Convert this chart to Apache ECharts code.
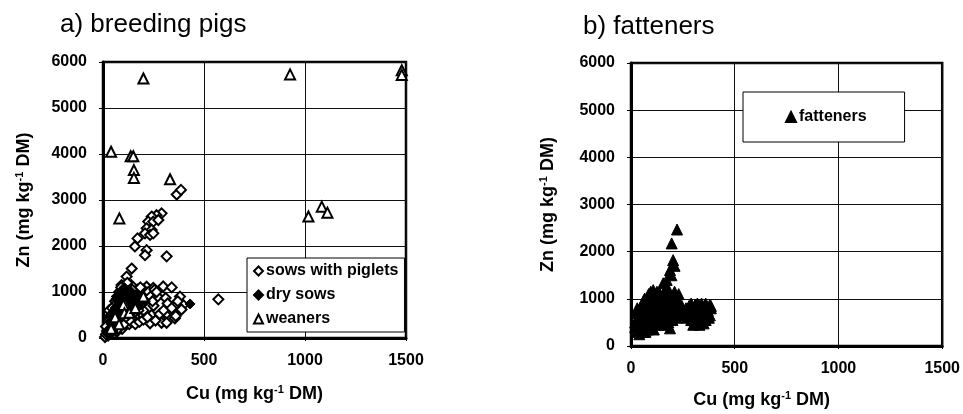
<!DOCTYPE html>
<html>
<head>
<meta charset="utf-8">
<script src="https://cdn.jsdelivr.net/npm/echarts@6/dist/echarts.min.js"></script>
<style>html,body{margin:0;padding:0;background:#fff;}#c{width:963px;height:414px;}</style>
</head>
<body>
<div id="c"></div>
<script>
// ---- data (Cu, Zn) in mg kg-1 DM ----
var xTicks = [0, 500, 1000, 1500];
var yTicks = [0, 1000, 2000, 3000, 4000, 5000, 6000];

var sowsWithPiglets = [
  [365,3120],[386,3220],[290,2710],[265,2670],[241,2640],[224,2530],[249,2530],[274,2565],
  [216,2385],[241,2350],[208,2275],[233,2240],[249,2275],[171,2165],[158,1990],[216,1910],
  [208,1800],[315,1775],[142,1510],[117,1335],[92,1150],[571,840],
  [216,1115],[249,1090],[298,1120],[340,1100],[270,900],[381,900],[397,720],[315,535],
  [348,560],[389,620],[282,430],[356,430],[233,320],[290,330],[315,330],[360,480],
  [250,700],[200,600],[180,800],[150,1000],[130,1100],[310,870],[240,500],[170,400],
  [20,150],[30,300],[40,250],[50,400],[60,500],[70,350],[80,600],[90,700],[100,800],
  [110,900],[120,1000],[60,800],[70,900],[80,1000],[100,1050],[130,800],[140,700],
  [150,600],[120,500],[100,400],[80,250],[50,200],[40,500],[30,600],[110,650],[160,900],
  [170,1050],[190,950],[140,1150],[120,1200],[90,1100],[150,400],[130,300],[60,100],
  [25,50],[10,20],[200,1050],
  [15,80],[35,150],[45,350],[55,250],[65,600],[75,450],[85,850],[95,550],[105,950],
  [115,750],[125,850],[135,950],[145,1050],[155,800],[165,700],[175,600],[185,1100],
  [195,750],[205,950],[215,850],[225,1000],[235,900],[245,800],[255,1050],[265,1000],
  [55,700],[45,650],[35,450],[25,350],[15,250],[85,350],[95,200],[105,300],[115,450],
  [65,150],[75,200],[140,350],[160,300],[180,350],[200,400],[220,450],[260,380],
  [280,520],[300,600],[320,750],[340,650],[370,800]
];
var drySows = [
  [431,740],[60,400],[80,500],[100,600],[120,700],[140,800],[90,900],[110,1000],[70,700],
  [50,300],[30,200],[150,950],[130,600],[180,700],[160,850],[40,450],[100,850],[120,950],
  [200,850],[60,650],[20,100],[80,800],
  [25,150],[35,350],[45,550],[55,450],[65,550],[75,650],[85,750],[95,650],[105,700],
  [115,850],[125,800],[135,900],[145,750],[155,700],[165,950],[175,800],[110,550],
  [90,450],[70,400],[50,150],[40,300],[130,1050],[105,1100],[85,1000],[65,850],[190,900],
  [210,800]
];
var weaners = [
  [200,5640],[926,5730],[1479,5820],[1479,5720],[40,4050],[137,3950],[150,3950],[153,3650],
  [153,3480],[332,3450],[81,2600],[1017,2640],[1083,2855],[1111,2725],[109,740],[200,900],
  [101,720],[106,540],[60,450],[130,550],[80,300],[40,200],[160,650]
];
var fatteners = [
  [222,2470],[196,2175],[203,1820],[188,1610],[172,1400],[155,1330],[107,1185],[75,1010],
  [210,1700],[195,1500],[180,1200],[160,1150],[140,1100],[120,1050],[90,1000],[60,950],
  [30,300],[40,400],[50,500],[35,600],[60,700],[70,800],[80,900],[90,600],[100,700],
  [110,800],[120,900],[130,1000],[140,800],[150,700],[160,600],[170,900],[180,1000],
  [190,800],[200,700],[210,900],[220,1000],[230,800],[240,700],[250,650],[100,500],
  [80,450],[60,550],[120,600],[140,500],[160,450],[180,500],[200,550],[220,600],[188,375],
  [110,350],[70,300],[50,350],[150,850],[90,750],[230,1100],[210,1150],[45,750],[30,800],
  [25,700],
  [290,900],[310,880],[330,850],[360,900],[380,870],[385,800],[370,700],[350,600],
  [330,500],[300,450],[290,550],[300,650],[320,700],[340,750],[310,600],[360,550],
  [380,650],[295,750],[270,600],[260,700],
  [20,500],[40,650],[55,850],[65,1000],[85,1100],[95,1150],[105,900],[115,650],[125,750],
  [135,600],[145,950],[155,1000],[165,800],[175,650],[185,900],[195,1000],[205,800],
  [215,650],[225,750],[235,900],[245,850],[255,750],[265,800],[275,700],[40,250],[60,300],
  [80,350],[100,400],[130,450],[150,550],[170,550],[190,650],[20,400],[30,550],[45,450],
  [75,600],[85,500],[95,850],[125,1150],[115,1000],[280,850],[300,800],[320,600],[340,650],
  [350,800],[370,750],[340,900],[315,500],[360,650],[375,600],[385,850],[320,900],[300,550],
  [280,650],[330,450],[350,480]
];

var FONT = '"Liberation Sans", Arial, sans-serif';
var chart = echarts.init(document.getElementById('c'));
function plain(v) { return String(v); }

function xAxisCfg(gi, nameGap, namePad) {
  return {
    gridIndex: gi, type: 'value', min: xTicks[0], max: xTicks[xTicks.length-1], interval: 500,
    name: 'Cu (mg kg{sup|-1} DM)', nameLocation: 'middle', nameGap: nameGap,
    nameTextStyle: {fontFamily: FONT, fontSize: 18, fontWeight: 'bold', color: '#000', padding: namePad,
      rich: {sup: {fontFamily: FONT, fontSize: 11, fontWeight: 'bold', color: '#000', verticalAlign: 'top', lineHeight: 20}}},
    axisLine: {show: true, lineStyle: {color: '#000', width: 3}},
    axisTick: {show: true, length: 3, lineStyle: {color: '#000'}},
    axisLabel: {fontFamily: FONT, fontSize: 16, fontWeight: 'bold', color: '#000', margin: 15, formatter: plain},
    splitLine: {show: true, lineStyle: {color: '#111', width: 1}}
  };
}
function yAxisCfg(gi, nameGap) {
  return {
    gridIndex: gi, type: 'value', min: yTicks[0], max: yTicks[yTicks.length-1], interval: 1000,
    name: 'Zn (mg kg{sup|-1} DM)', nameLocation: 'middle', nameGap: nameGap, nameRotate: 90,
    nameTextStyle: {fontFamily: FONT, fontSize: 18, fontWeight: 'bold', color: '#000',
      rich: {sup: {fontFamily: FONT, fontSize: 11, fontWeight: 'bold', color: '#000', verticalAlign: 'top', lineHeight: 20}}},
    axisLine: {show: true, lineStyle: {color: '#000', width: 3}},
    axisTick: {show: true, length: 4, lineStyle: {color: '#000'}},
    axisLabel: {fontFamily: FONT, fontSize: 16, fontWeight: 'bold', color: '#000', margin: 16, formatter: plain},
    splitLine: {show: true, lineStyle: {color: '#111', width: 1}}
  };
}

chart.setOption({
  backgroundColor: '#fff',
  animation: false,
  title: [
    {text: 'a) breeding pigs', left: 55, top: 7, textStyle: {fontFamily: FONT, fontSize: 26, fontWeight: 'normal', color: '#000'}},
    {text: 'b) fatteners', left: 578, top: 9, textStyle: {fontFamily: FONT, fontSize: 26, fontWeight: 'normal', color: '#000'}}
  ],
  grid: [
    {left: 103, top: 62, width: 303, height: 276, show: true, borderColor: '#000', borderWidth: 2.5, backgroundColor: 'transparent'},
    {left: 631, top: 63, width: 312, height: 283, show: true, borderColor: '#000', borderWidth: 2.5, backgroundColor: 'transparent'}
  ],
  xAxis: [xAxisCfg(0, 46, [0,0,0,0]), xAxisCfg(1, 44, [0,50,0,0])],
  yAxis: [yAxisCfg(0, 69), yAxisCfg(1, 73)],
  legend: [
    {
      data: ['sows with piglets', 'dry sows', 'weaners'],
      left: 247, top: 258, orient: 'vertical', itemGap: 8, itemWidth: 9, itemHeight: 9,
      padding: [5, 6, 5, 6], backgroundColor: '#fff', borderColor: '#000', borderWidth: 1,
      textStyle: {fontFamily: FONT, fontSize: 16, fontWeight: 'bold', color: '#000', padding: [0,0,0,-2]}
    },
    {
      data: ['fatteners'],
      left: 743, top: 92, orient: 'vertical', itemWidth: 10, itemHeight: 10,
      padding: [17, 38, 17, 42], backgroundColor: '#fff', borderColor: '#000', borderWidth: 1,
      textStyle: {fontFamily: FONT, fontSize: 16, fontWeight: 'bold', color: '#000', padding: [0,0,0,-2]}
    }
  ],
  series: [
    {name: 'sows with piglets', type: 'scatter', xAxisIndex: 0, yAxisIndex: 0, data: sowsWithPiglets,
      symbol: 'diamond', symbolSize: 10, itemStyle: {color: '#fff', borderColor: '#000', borderWidth: 2, opacity: 1}},
    {name: 'dry sows', type: 'scatter', xAxisIndex: 0, yAxisIndex: 0, data: drySows,
      symbol: 'diamond', symbolSize: 10, itemStyle: {color: '#000', borderColor: '#000', borderWidth: 1, opacity: 1}},
    {name: 'weaners', type: 'scatter', xAxisIndex: 0, yAxisIndex: 0, data: weaners,
      symbol: 'triangle', symbolSize: 10, itemStyle: {color: '#fff', borderColor: '#000', borderWidth: 2, opacity: 1}},
    {name: 'fatteners', type: 'scatter', xAxisIndex: 1, yAxisIndex: 1, data: fatteners,
      symbol: 'triangle', symbolSize: 11, itemStyle: {color: '#000', borderColor: '#000', borderWidth: 1, opacity: 1}}
  ]
});
</script>
</body>
</html>
